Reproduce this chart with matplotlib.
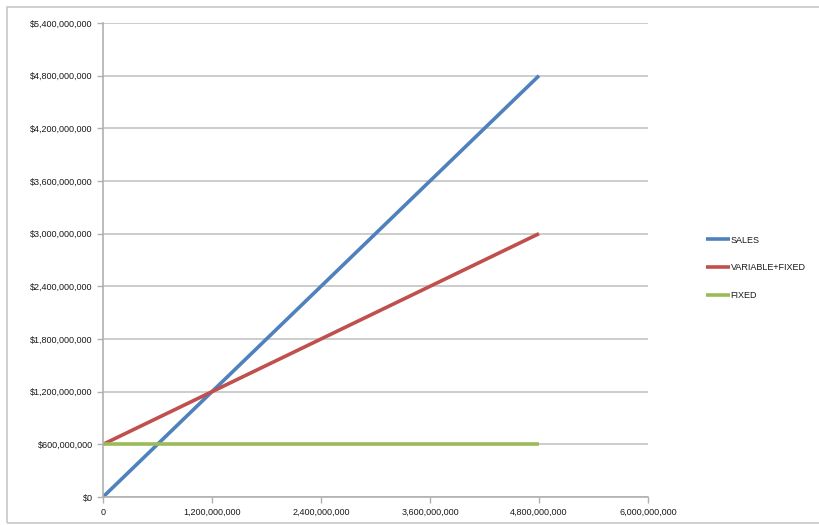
import matplotlib
matplotlib.use("Agg")
import matplotlib.pyplot as plt
from matplotlib.ticker import FuncFormatter, MultipleLocator
from matplotlib.patches import Rectangle

units = [0, 1.2e9, 2.4e9, 3.6e9, 4.8e9]
sales = [0, 1.2e9, 2.4e9, 3.6e9, 4.8e9]
variable_fixed = [0.6e9, 1.2e9, 1.8e9, 2.4e9, 3.0e9]
fixed = [0.6e9, 0.6e9, 0.6e9, 0.6e9, 0.6e9]
series_names = ["SALES", "VARIABLE+FIXED", "FIXED"]
colors = ["#4F81BD", "#C0504D", "#9BBB59"]

plt.rcParams['font.family'] = ['Liberation Sans', 'DejaVu Sans']

fig = plt.figure(figsize=(8.2, 5.25), dpi=100)
fig.patches.append(Rectangle((7/820, 0.004), 1.2, 1 - 0.004 - 7/525, transform=fig.transFigure,
                             fill=False, edgecolor="#c8c8c8", linewidth=1.2))
ax = fig.add_axes([103/820, 1 - 497/525, (648 - 103)/820, (497 - 23)/525])

for y, name, c in zip([sales, variable_fixed, fixed], series_names, colors):
    ax.plot(units, y, color=c, linewidth=2.6, label=name, solid_capstyle='butt')

ax.set_xlim(0, 6e9)
ax.set_ylim(0, 5.4e9)
ax.xaxis.set_major_locator(MultipleLocator(1.2e9))
ax.yaxis.set_major_locator(MultipleLocator(6e8))
ax.xaxis.set_major_formatter(FuncFormatter(lambda v, p: f"{v:,.0f}"))
ax.yaxis.set_major_formatter(FuncFormatter(lambda v, p: f"${v:,.0f}"))
ax.grid(axis='y', color="#c4c4c4", linewidth=1.2)
ax.set_axisbelow(True)
for s in ['top', 'right']:
    ax.spines[s].set_visible(False)
for s in ['left', 'bottom']:
    ax.spines[s].set_color("#b0b0b0")
    ax.spines[s].set_linewidth(1.2)
ax.tick_params(axis='both', labelsize=6.5, colors="#b0b0b0", labelcolor="#1a1a1a", length=4, width=1)
ax.tick_params(axis='x', pad=4)

leg = fig.legend(loc='center left', bbox_to_anchor=(698/820, 1 - 268/525), frameon=False,
                 fontsize=6.5, handlelength=2.6, handletextpad=0.1, labelspacing=2.1)
for t in leg.get_texts():
    t.set_color("#1a1a1a")

fig.savefig("out.png", dpi=100)
